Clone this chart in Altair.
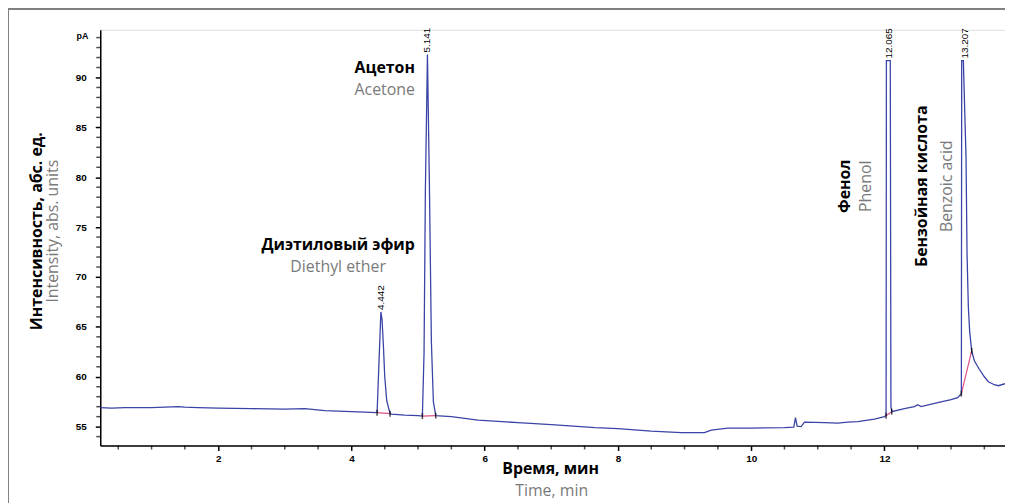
import altair as alt
import pandas as pd

# ---- chromatogram trace (time, min / signal, pA) ----
time_min = [0.23, 0.4, 0.6, 1.0, 1.4, 1.5, 1.7, 2.0, 2.5, 3.0, 3.3, 3.6, 4.0, 4.2,
            4.385, 4.40, 4.442, 4.46, 4.48, 4.50, 4.53, 4.58, 4.6, 4.8, 5.0,
            5.065, 5.09, 5.11, 5.141, 5.17, 5.20, 5.23, 5.265, 5.5, 5.9, 6.5, 7.0,
            7.66, 8.0, 8.5, 8.95, 9.3, 9.4, 9.65, 10.0, 10.5, 10.64, 10.665, 10.69,
            10.75, 10.8, 11.1, 11.3, 11.45, 11.6, 11.85, 12.0, 12.025, 12.03, 12.088,
            12.098, 12.11, 12.3, 12.45, 12.5, 12.55, 12.8, 13.0, 13.1, 13.155, 13.16,
            13.185, 13.2, 13.225, 13.24, 13.26, 13.28, 13.31, 13.35, 13.42, 13.5,
            13.56, 13.65, 13.71, 13.81]
signal_pa = [56.9, 56.85, 56.9, 56.9, 57.0, 56.95, 56.9, 56.85, 56.8, 56.75, 56.8, 56.6, 56.5, 56.45,
             56.4, 59.0, 66.5, 65.7, 63.1, 60.0, 57.6, 56.3, 56.25, 56.15, 56.1,
             56.05, 62.4, 78.7, 92.3, 79.5, 63.5, 57.5, 56.1, 56.0, 55.65, 55.4, 55.2,
             54.9, 54.8, 54.55, 54.4, 54.4, 54.65, 54.85, 54.85, 54.9, 54.95, 55.9, 55.05,
             55.0, 55.45, 55.4, 55.35, 55.45, 55.5, 55.75, 56.0, 56.1, 91.7, 91.7,
             57.0, 56.5, 56.8, 57.0, 57.2, 57.0, 57.4, 57.7, 57.9, 58.3, 91.7,
             91.7, 88.0, 82.0, 72.4, 67.0, 64.5, 62.6, 61.6, 60.8, 60.0,
             59.5, 59.2, 59.1, 59.3]

# ---- retention-time labels ----
peak_times = [4.442, 5.141, 12.065, 13.207]
peak_labels = ["4.442", "5.141", "12.065", "13.207"]
peak_tops = [66.5, 92.3, 91.7, 91.7]

# ---- integration baselines ----
base_t1 = [4.385, 5.065, 12.025, 13.155]
base_v1 = [56.4, 56.05, 56.1, 58.3]
base_t2 = [4.58, 5.265, 12.11, 13.31]
base_v2 = [56.3, 56.1, 56.5, 62.6]

# ---- compound names ----
names_ru = ["Диэтиловый эфир", "Ацетон", "Фенол", "Бензойная кислота"]
names_en = ["Diethyl ether", "Acetone", "Phenol", "Benzoic acid"]

x_ticks = [2, 4, 6, 8, 10, 12]
x_minor = [i * 0.5 for i in range(1, 28) if i % 4 != 0]
y_ticks = [55, 60, 65, 70, 75, 80, 85, 90]
y_minor = [v for v in range(54, 95) if v % 5 != 0]

XDOM = [0.23, 13.81]
YDOM = [53.11, 94.78]
FONT = "Open Sans"
TICKFONT = "Liberation Sans"
BLUE = "#3a43a6"
GREY = "#7a7a7a"

trace = pd.DataFrame({"t": time_min, "v": signal_pa})
peaks = pd.DataFrame({"t": peak_times, "v": peak_tops, "lab": peak_labels})
bases = pd.DataFrame({"t": base_t1, "v": base_v1, "t2": base_t2, "v2": base_v2})
ends = pd.DataFrame({"t": base_t1 + base_t2, "v": base_v1 + base_v2})
xmin_df = pd.DataFrame({"t": x_minor, "v": [YDOM[0]] * len(x_minor)})
ymin_df = pd.DataFrame({"v": y_minor, "t": [XDOM[0]] * len(y_minor)})

hlab = pd.DataFrame({
    "ru": names_ru[:2], "en": names_en[:2],
    "t": [3.80, 4.50], "vr": [73.2, 90.9], "ve": [71.0, 88.7],
})
vlab = pd.DataFrame({
    "ru": names_ru[2:], "en": names_en[2:],
    "tr": [11.41, 12.56], "te": [11.72, 12.94], "v": [79.1, 79.1],
})

xs = alt.Scale(domain=XDOM, nice=False, zero=False)
ys = alt.Scale(domain=YDOM, nice=False, zero=False)
XAX = alt.Axis(orient="bottom", values=x_ticks, format="d", title=None, grid=False,
               tickSize=5, tickWidth=1.5, domainWidth=1.5, labelPadding=3,
               domainColor="black", tickColor="black",
               labelFont=TICKFONT, labelFontSize=10, labelColor="black", labelFontWeight="bold")
YAX = alt.Axis(orient="left", values=y_ticks, format="d", title=None, grid=False,
               tickSize=5, tickWidth=1.5, domainWidth=1.5, labelPadding=9,
               domainColor="black", tickColor="black",
               labelFont=TICKFONT, labelFontSize=10, labelColor="black", labelFontWeight="bold")


def X(f):
    return alt.X(f, type="quantitative", scale=xs, axis=XAX, title=None)


def Y(f):
    return alt.Y(f, type="quantitative", scale=ys, axis=YAX, title=None)


main = alt.Chart(trace).mark_line(color=BLUE, strokeWidth=1.3, clip=True).encode(
    x=X("t"), y=Y("v"))

xminor = alt.Chart(xmin_df).mark_tick(orient="vertical", color="black", size=4,
                                      thickness=1.5, yOffset=2).encode(x=X("t"), y=Y("v"))
yminor = alt.Chart(ymin_df).mark_tick(orient="horizontal", color="black", size=4,
                                      thickness=1.5, xOffset=-2).encode(x=X("t"), y=Y("v"))

baseline = alt.Chart(bases).mark_rule(color="#e0508a", strokeWidth=1.2).encode(
    x=X("t"), y=Y("v"), x2="t2:Q", y2="v2:Q")
endmarks = alt.Chart(ends).mark_tick(orient="vertical", color="black", size=6, thickness=1.5).encode(
    x=X("t"), y=Y("v"))

rt = alt.Chart(peaks).mark_text(angle=270, align="left", baseline="middle", dx=2,
                                font=TICKFONT, fontSize=10, color="black").encode(
    x=X("t"), y=Y("v"), text="lab:N")

h_ru = alt.Chart(hlab).mark_text(font=FONT, fontSize=16, fontWeight="bold", color="black",
                                 baseline="middle").encode(x=X("t"), y=Y("vr"), text="ru:N")
h_en = alt.Chart(hlab).mark_text(font=FONT, fontSize=16, color=GREY,
                                 baseline="middle").encode(x=X("t"), y=Y("ve"), text="en:N")
v_ru = alt.Chart(vlab).mark_text(font=FONT, fontSize=16, fontWeight="bold", color="black",
                                 angle=270, baseline="middle").encode(x=X("tr"), y=Y("v"), text="ru:N")
v_en = alt.Chart(vlab).mark_text(font=FONT, fontSize=16, color=GREY,
                                 angle=270, baseline="middle").encode(x=X("te"), y=Y("v"), text="en:N")

one = alt.Data(values=[{}])
ytitle_ru = alt.Chart(one).mark_text(text="Интенсивность, абс. ед.", font=FONT, fontSize=16,
                                     fontWeight="bold", color="black", angle=270,
                                     baseline="middle").encode(x=alt.value(-64), y=alt.value(203))
ytitle_en = alt.Chart(one).mark_text(text="Intensity, abs. units", font=FONT, fontSize=16,
                                     color=GREY, angle=270,
                                     baseline="middle").encode(x=alt.value(-48), y=alt.value(203))
xtitle_ru = alt.Chart(one).mark_text(text="Время, мин", font=FONT, fontSize=16,
                                     fontWeight="bold", color="black",
                                     baseline="middle").encode(x=alt.value(454), y=alt.value(443))
xtitle_en = alt.Chart(one).mark_text(text="Time, min", font=FONT, fontSize=16, color=GREY,
                                     baseline="middle").encode(x=alt.value(455), y=alt.value(465))
unit = alt.Chart(one).mark_text(text="pA", font=TICKFONT, fontSize=9, fontWeight="bold",
                                color="black", baseline="middle").encode(
    x=alt.value(-18), y=alt.value(6))
frame = alt.Chart(one).mark_rect(fillOpacity=0, stroke="#808080", strokeWidth=2).encode(
    x=alt.value(-93), x2=alt.value(1400), y=alt.value(-21), y2=alt.value(900))

chart = alt.layer(
    frame, baseline, main, endmarks, rt, h_ru, h_en, v_ru, v_en,
    ytitle_ru, ytitle_en, xtitle_ru, xtitle_en, unit, xminor, yminor,
).properties(
    width=912, height=419,
    padding={"left": 93, "top": 20, "right": 0, "bottom": 56},
    autosize=alt.AutoSizeParams(type="none"),
).configure_view(stroke=None).configure(background="white")

chart.save("out.html", embed_options={"renderer": "svg", "actions": False})
